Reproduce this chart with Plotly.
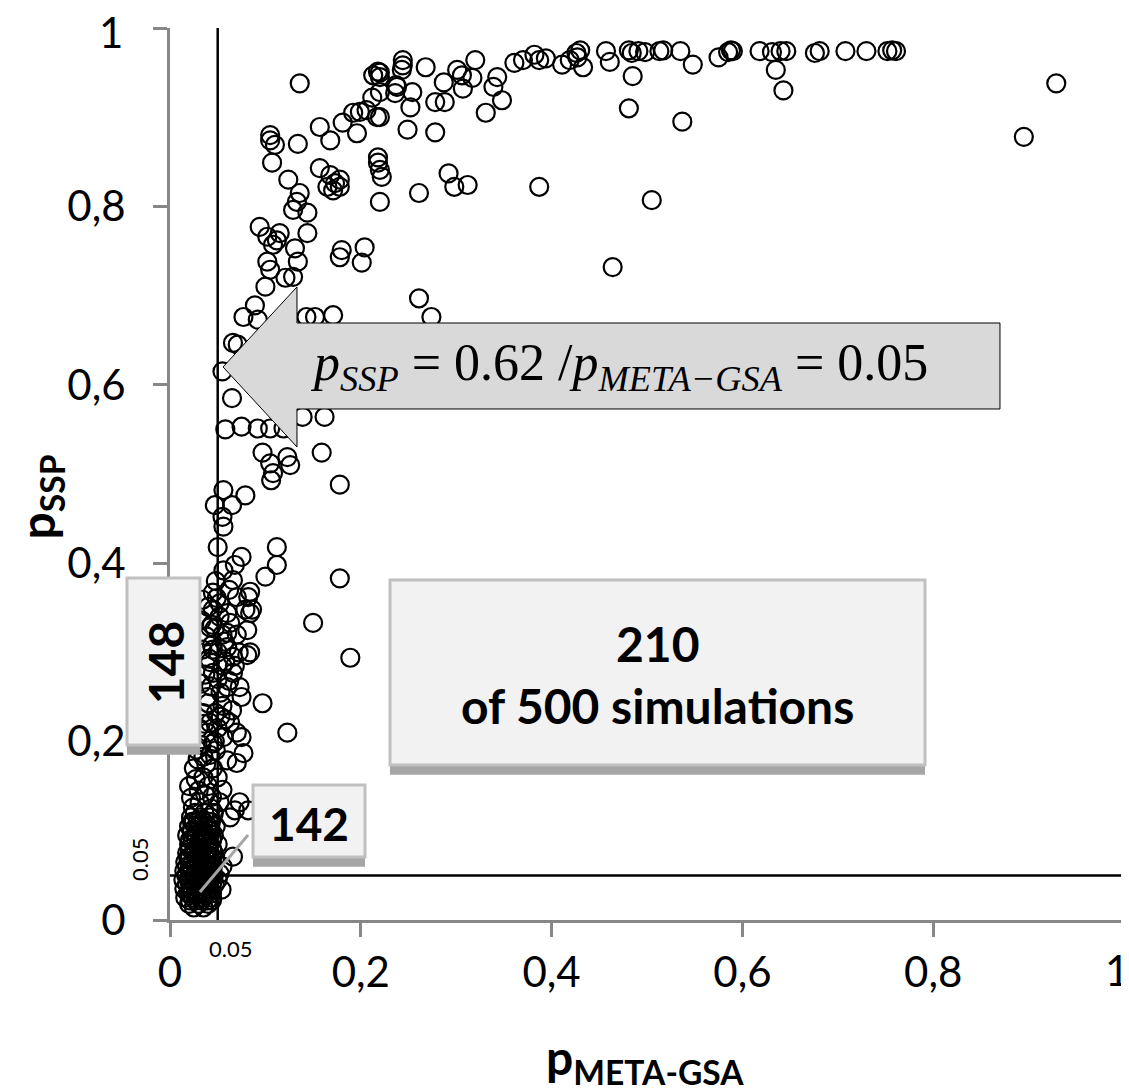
import plotly.graph_objects as go

# ---------------- data ----------------
top_x = [0.426, 0.430, 0.457, 0.481, 0.484, 0.491, 0.498, 0.513, 0.517, 0.535, 0.585, 0.588,
         0.590, 0.618, 0.631, 0.640, 0.646, 0.676, 0.681, 0.708, 0.730, 0.752, 0.757, 0.761]
top_y = [0.972, 0.975, 0.974, 0.975, 0.972, 0.974, 0.973, 0.974, 0.975, 0.974, 0.973, 0.975,
         0.974, 0.974, 0.973, 0.974, 0.974, 0.972, 0.974, 0.974, 0.974, 0.974, 0.975, 0.974]

upper_x = [0.220, 0.244, 0.244, 0.243, 0.268, 0.287, 0.301, 0.306, 0.307, 0.317, 0.320, 0.237,
           0.254, 0.220, 0.252, 0.278, 0.288, 0.220, 0.249, 0.278, 0.331, 0.348, 0.339, 0.343,
           0.361, 0.370, 0.382, 0.387, 0.394, 0.411, 0.419, 0.427, 0.433, 0.461, 0.485, 0.481,
           0.537, 0.548, 0.575, 0.635, 0.643, 0.929, 0.895, 0.218, 0.218, 0.220, 0.222, 0.220,
           0.261, 0.292, 0.298, 0.312, 0.387, 0.505, 0.464, 0.261, 0.274,
           0.136, 0.105, 0.105, 0.110, 0.134, 0.107, 0.124, 0.157, 0.168, 0.173, 0.178, 0.171,
           0.165, 0.178, 0.133, 0.136, 0.129, 0.144, 0.144, 0.094, 0.102, 0.112, 0.115, 0.108,
           0.180, 0.204, 0.157, 0.168, 0.181, 0.192, 0.199, 0.206, 0.196, 0.217, 0.212, 0.213,
           0.218, 0.220, 0.238, 0.236, 0.131, 0.178, 0.201, 0.102, 0.105, 0.134, 0.121, 0.129,
           0.100, 0.089, 0.077, 0.092, 0.152, 0.171, 0.143]
upper_y = [0.950, 0.964, 0.958, 0.953, 0.956, 0.939, 0.953, 0.947, 0.932, 0.944, 0.964, 0.936,
           0.928, 0.928, 0.911, 0.917, 0.917, 0.900, 0.886, 0.883, 0.905, 0.919, 0.934, 0.945,
           0.961, 0.964, 0.970, 0.964, 0.966, 0.959, 0.964, 0.967, 0.956, 0.962, 0.946, 0.910,
           0.895, 0.959, 0.967, 0.953, 0.930, 0.938, 0.878, 0.855, 0.849, 0.841, 0.833, 0.805,
           0.815, 0.837, 0.822, 0.824, 0.822, 0.807, 0.732, 0.697, 0.676,
           0.938, 0.880, 0.874, 0.869, 0.870, 0.849, 0.830, 0.843, 0.835, 0.826, 0.822, 0.818,
           0.822, 0.830, 0.805, 0.815, 0.796, 0.793, 0.770, 0.777, 0.766, 0.762, 0.770, 0.757,
           0.751, 0.754, 0.889, 0.874, 0.894, 0.905, 0.906, 0.908, 0.882, 0.900, 0.922, 0.947,
           0.951, 0.945, 0.934, 0.927, 0.753, 0.743, 0.737, 0.738, 0.729, 0.738, 0.720, 0.721,
           0.710, 0.689, 0.676, 0.673, 0.676, 0.678, 0.676]

mid_x = [0.071, 0.066, 0.055, 0.065, 0.058, 0.075, 0.092, 0.105, 0.119, 0.139, 0.162, 0.097,
         0.105, 0.108, 0.106, 0.123, 0.126, 0.159, 0.178, 0.056, 0.079, 0.047, 0.065, 0.055,
         0.056, 0.050, 0.075, 0.068, 0.112, 0.112, 0.100, 0.178, 0.066, 0.082, 0.070, 0.049,
         0.045, 0.060, 0.079, 0.084, 0.044, 0.063, 0.081, 0.060, 0.150, 0.044, 0.060, 0.081,
         0.084, 0.066, 0.042, 0.189, 0.045, 0.066, 0.073, 0.075, 0.060, 0.097, 0.123, 0.040,
         0.042, 0.063, 0.070, 0.039, 0.084, 0.086, 0.045, 0.040, 0.042, 0.045, 0.034, 0.033,
         0.034, 0.033, 0.035, 0.052, 0.055, 0.050, 0.055, 0.050, 0.058, 0.070, 0.072, 0.068,
         0.052, 0.062, 0.056, 0.048, 0.053, 0.048, 0.055, 0.058, 0.050, 0.065, 0.047,
         0.038, 0.041, 0.037, 0.043, 0.039, 0.057, 0.062, 0.053, 0.047, 0.036]
mid_y = [0.645, 0.647, 0.615, 0.585, 0.550, 0.553, 0.551, 0.551, 0.551, 0.564, 0.564, 0.524,
         0.512, 0.501, 0.493, 0.519, 0.510, 0.524, 0.488, 0.482, 0.476, 0.465, 0.465, 0.452,
         0.441, 0.418, 0.407, 0.398, 0.418, 0.398, 0.385, 0.383, 0.381, 0.362, 0.362, 0.361,
         0.348, 0.344, 0.348, 0.344, 0.331, 0.333, 0.325, 0.322, 0.333, 0.308, 0.306, 0.297,
         0.300, 0.295, 0.289, 0.294, 0.277, 0.277, 0.261, 0.250, 0.261, 0.243, 0.210, 0.243,
         0.221, 0.221, 0.210, 0.210, 0.368, 0.348, 0.367, 0.351, 0.328, 0.303, 0.359, 0.336,
         0.303, 0.265, 0.232, 0.340, 0.320, 0.300, 0.285, 0.270, 0.290, 0.320, 0.300, 0.285,
         0.355, 0.370, 0.392, 0.380, 0.255, 0.232, 0.240, 0.225, 0.215, 0.235, 0.200,
         0.318, 0.293, 0.275, 0.262, 0.250, 0.312, 0.268, 0.228, 0.327, 0.220]

low_x = [0.075, 0.077, 0.060, 0.070, 0.035, 0.028, 0.045, 0.056, 0.055, 0.044, 0.052, 0.073,
         0.082, 0.068, 0.063, 0.024, 0.031, 0.030, 0.025, 0.035, 0.040, 0.030, 0.045, 0.050,
         0.038, 0.020, 0.042, 0.033, 0.027, 0.048, 0.037, 0.022, 0.043, 0.029]
low_y = [0.205, 0.187, 0.179, 0.176, 0.183, 0.191, 0.198, 0.205, 0.146, 0.138, 0.132, 0.132,
         0.123, 0.123, 0.115, 0.126, 0.132, 0.215, 0.170, 0.160, 0.150, 0.145, 0.170, 0.160,
         0.175, 0.150, 0.185, 0.196, 0.158, 0.190, 0.140, 0.137, 0.125, 0.180]

cluster_x = [0.022, 0.032, 0.042,
             0.020, 0.030, 0.040, 0.048,
             0.018, 0.028, 0.038, 0.046,
             0.020, 0.030, 0.040, 0.050,
             0.018, 0.026, 0.036, 0.046, 0.066,
             0.016, 0.024, 0.034, 0.044, 0.055,
             0.015, 0.022, 0.032, 0.042, 0.052,
             0.014, 0.020, 0.030, 0.040, 0.050,
             0.015, 0.022, 0.032, 0.042, 0.054,
             0.016, 0.024, 0.034, 0.044,
             0.020, 0.030, 0.040,
             0.026, 0.036, 0.046,
             0.025, 0.035, 0.043,
             0.023, 0.033, 0.043,
             0.024, 0.034, 0.044,
             0.021, 0.031, 0.040,
             0.019, 0.028, 0.038, 0.047,
             0.018, 0.027, 0.036, 0.045,
             0.017, 0.026, 0.036, 0.046,
             0.018, 0.027, 0.037, 0.047,
             0.019, 0.029, 0.038,
             0.025, 0.035,
             0.021, 0.027, 0.033, 0.039, 0.044,
             0.021, 0.027, 0.033, 0.039, 0.044,
             0.021, 0.027, 0.033, 0.039, 0.044,
             0.021, 0.027, 0.033, 0.039, 0.044,
             0.021, 0.027, 0.033, 0.039, 0.044,
             0.021, 0.027, 0.033, 0.039, 0.044,
             0.021, 0.027, 0.033, 0.039, 0.044,
             0.021, 0.027, 0.033, 0.039, 0.044,
             0.023, 0.029, 0.035, 0.041,
             0.023, 0.029, 0.035, 0.041]
cluster_y = [0.115, 0.115, 0.115,
             0.105, 0.105, 0.105, 0.105,
             0.095, 0.095, 0.095, 0.095,
             0.085, 0.085, 0.085, 0.085,
             0.075, 0.075, 0.075, 0.075, 0.071,
             0.065, 0.065, 0.065, 0.065, 0.060,
             0.055, 0.055, 0.055, 0.055, 0.052,
             0.045, 0.045, 0.045, 0.045, 0.045,
             0.035, 0.035, 0.035, 0.035, 0.034,
             0.025, 0.025, 0.025, 0.025,
             0.018, 0.018, 0.018,
             0.120, 0.120, 0.120,
             0.110, 0.110, 0.110,
             0.100, 0.100, 0.100,
             0.090, 0.090, 0.090,
             0.080, 0.080, 0.080,
             0.070, 0.070, 0.070, 0.068,
             0.060, 0.060, 0.060, 0.060,
             0.050, 0.050, 0.050, 0.050,
             0.040, 0.040, 0.040, 0.040,
             0.030, 0.030, 0.030,
             0.014, 0.014,
             0.022, 0.022, 0.022, 0.022, 0.022,
             0.030, 0.030, 0.030, 0.030, 0.030,
             0.040, 0.040, 0.040, 0.040, 0.040,
             0.050, 0.050, 0.050, 0.050, 0.050,
             0.060, 0.060, 0.060, 0.060, 0.060,
             0.070, 0.070, 0.070, 0.070, 0.070,
             0.080, 0.080, 0.080, 0.080, 0.080,
             0.090, 0.090, 0.090, 0.090, 0.090,
             0.100, 0.100, 0.100, 0.100,
             0.110, 0.110, 0.110, 0.110]

tick_vals = [0, 0.2, 0.4, 0.6, 0.8, 1]
tick_text = ["0", "0,2", "0,4", "0,6", "0,8", "1"]
threshold = 0.05

xs = top_x + upper_x + mid_x + low_x + cluster_x
ys = top_y + upper_y + mid_y + low_y + cluster_y

# ---------------- figure ----------------
fig = go.Figure()
fig.add_trace(go.Scatter(
    x=xs, y=ys, mode="markers", cliponaxis=False,
    marker=dict(symbol="circle-open", size=18, color="black", line=dict(width=2.2)),
    showlegend=False, hoverinfo="skip"))

AX = "#878787"
FONT = "Lato"
TICKFONT = dict(family=FONT, size=42, color="black")
# the end labels ("1") would overflow the page edge, so they are drawn as annotations below
axis_common = dict(range=[0, 1], showgrid=False, zeroline=False, showline=True, automargin=False,
                   linecolor=AX, linewidth=3, ticks="outside", ticklen=14, tickwidth=3,
                   tickcolor=AX, tickvals=tick_vals, ticktext=tick_text[:-1] + [""],
                   tickfont=TICKFONT)
fig.update_xaxes(**axis_common, ticklabelstandoff=0)
fig.update_yaxes(**axis_common, ticklabelstandoff=19)

shapes = []
# threshold lines
shapes.append(dict(type="line", xref="x", yref="y", x0=threshold, x1=threshold, y0=0, y1=1,
                   line=dict(color="black", width=2.5), layer="above"))
shapes.append(dict(type="line", xref="x", yref="y", x0=0, x1=1, y0=threshold, y1=threshold,
                   line=dict(color="black", width=2.5), layer="above"))
# leader line to "142"
shapes.append(dict(type="line", xref="paper", yref="paper", x0=0.0314, y0=0.0314, x1=0.0818, y1=0.0953,
                   line=dict(color="#a6a6a6", width=3), layer="above"))
# arrow
shapes.append(dict(type="path", xref="paper", yref="paper",
                   path="M 0.0556,0.620 L 0.1331,0.7097 L 0.1331,0.6693 L 0.870,0.6693 "
                        "L 0.870,0.5729 L 0.1331,0.5729 L 0.1331,0.5303 Z",
                   fillcolor="#d9d9d9", line=dict(color="black", width=1), layer="above"))


def box(x0, x1, y0, y1, sh):
    shapes.append(dict(type="rect", xref="paper", yref="paper", x0=x0, x1=x1, y0=y0 - sh, y1=y0,
                       fillcolor="#a6a6a6", line=dict(width=0), layer="above"))
    shapes.append(dict(type="rect", xref="paper", yref="paper", x0=x0, x1=x1, y0=y0, y1=y1,
                       fillcolor="#f2f2f2", line=dict(color="#c0c0c0", width=3), layer="above"))


box(-0.0451, 0.0314, 0.1962, 0.3834, 0.011)
box(0.0870, 0.2044, 0.0706, 0.1513, 0.011)
box(0.2306, 0.7914, 0.1738, 0.3812, 0.011)

ann = []
bold = dict(family=FONT, size=48, color="black")
ann.append(dict(x=-0.0052, y=0.289, text="<b>148</b>", textangle=-90, font=bold))
ann.append(dict(x=0.1457, y=0.1087, text="<b>142</b>", font=dict(family=FONT, size=46, color="black")))
ann.append(dict(x=0.5115, y=0.3105, text="<b>210</b>", font=bold))
ann.append(dict(x=0.5115, y=0.241, text="<b>of 500 simulations</b>", font=bold))
ann.append(dict(x=0.4705, y=0.620,
                text="<i>p</i><sub><i>SSP</i></sub> = 0.62 /<i>p</i><sub><i>META\u2212GSA</i></sub> = 0.05",
                font=dict(family="Liberation Serif", size=52, color="black")))
ann.append(dict(x=0.0629, y=-0.0314, text="0.05", font=dict(family=FONT, size=22, color="black")))
ann.append(dict(x=-0.0314, y=0.0673, text="0.05", textangle=-90,
                font=dict(family=FONT, size=22, color="black")))
ann.append(dict(x=-0.1360, y=0.474, text="<b>p<sub>SSP</sub></b>", textangle=-90,
                font=dict(family=FONT, size=48, color="black")))
ann.append(dict(x=0.498, y=-0.157, text="<b>p<sub>META-GSA</sub></b>",
                font=dict(family=FONT, size=48, color="black")))
# end tick labels
ann.append(dict(x=0.9930, y=-0.056, text=tick_text[-1], font=TICKFONT))
ann.append(dict(x=-0.0472, y=0.996, text=tick_text[-1], font=TICKFONT, xanchor="right"))
for a in ann:
    a.setdefault("xanchor", "center")
    a.update(xref="paper", yref="paper", showarrow=False, yanchor="middle")

# the page adds an 8 px body margin, so the figure is 8 px smaller and margins compensate
fig.update_layout(width=1121, height=1083, margin=dict(l=162, r=5, t=20, b=171),
                  plot_bgcolor="white", paper_bgcolor="white",
                  shapes=shapes, annotations=ann, showlegend=False)

fig.write_html("out.html")
